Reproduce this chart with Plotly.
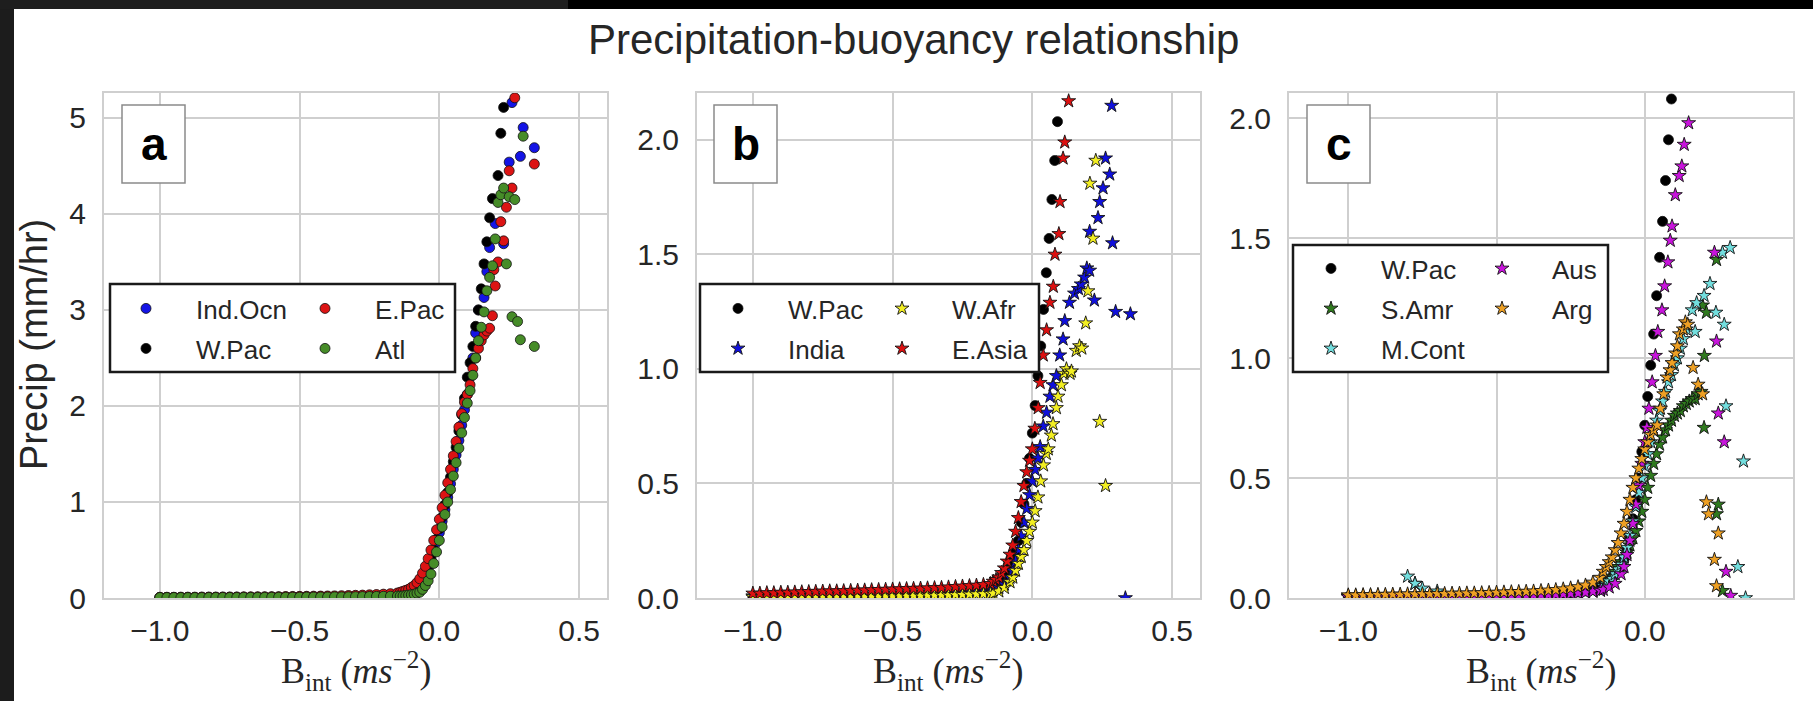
import plotly.graph_objects as go

W, H = 1813, 701

# ---------------- data ----------------
# shared bin centres of the flat left tail (B_int, m s^-2)
TAIL_B = [-1.000, -0.975, -0.950, -0.925, -0.900, -0.875, -0.850, -0.825, -0.800, -0.775,
          -0.750, -0.725, -0.700, -0.675, -0.650, -0.625, -0.600, -0.575, -0.550, -0.525,
          -0.500, -0.475, -0.450, -0.425, -0.400, -0.375, -0.350, -0.325, -0.300, -0.275,
          -0.250, -0.225, -0.200, -0.175, -0.150]

# W.Pac (same series in all three panels)
WPAC_TAIL = [0.004, 0.004, 0.004, 0.004, 0.004, 0.004, 0.004, 0.004, 0.004, 0.004, 0.005, 0.005,
             0.005, 0.005, 0.005, 0.005, 0.006, 0.006, 0.006, 0.007, 0.007, 0.008, 0.008, 0.009,
             0.010, 0.011, 0.012, 0.014, 0.016, 0.018, 0.021, 0.025, 0.030, 0.036, 0.044]
WPAC_X = [-0.14, -0.13, -0.12, -0.11, -0.10, -0.09, -0.08, -0.07, -0.06, -0.05, -0.04, -0.03, -0.02,
          -0.01, 0.00, 0.01, 0.02, 0.03, 0.04, 0.05, 0.06, 0.07, 0.08, 0.09, 0.10, 0.11, 0.12, 0.13,
          0.14, 0.15, 0.16, 0.17, 0.18, 0.19, 0.21, 0.22, 0.23]
WPAC_Y = [0.054, 0.06, 0.07, 0.085, 0.10, 0.115, 0.13, 0.16, 0.20, 0.25, 0.33, 0.41, 0.50, 0.61,
          0.72, 0.84, 0.97, 1.10, 1.26, 1.42, 1.57, 1.74, 1.91, 2.08, 2.30, 2.45, 2.62, 2.83, 3.00,
          3.22, 3.48, 3.71, 3.96, 4.16, 4.40, 4.84, 5.11]

# panel a (ocean regions)
IND_TAIL = [0.006, 0.006, 0.006, 0.006, 0.006, 0.006, 0.007, 0.007, 0.007, 0.007, 0.007, 0.008,
            0.008, 0.008, 0.008, 0.009, 0.009, 0.009, 0.010, 0.010, 0.011, 0.011, 0.012, 0.013,
            0.014, 0.015, 0.016, 0.018, 0.020, 0.022, 0.025, 0.028, 0.032, 0.037, 0.043]
IND_X = [-0.14, -0.13, -0.12, -0.11, -0.10, -0.09, -0.08, -0.07, -0.06, -0.05, -0.04, -0.03, -0.02,
         -0.01, 0.00, 0.01, 0.02, 0.03, 0.04, 0.05, 0.06, 0.07, 0.08, 0.09, 0.10, 0.11, 0.12, 0.13,
         0.14, 0.16, 0.17, 0.18, 0.20, 0.23, 0.25, 0.26, 0.29, 0.30, 0.34]
IND_Y = [0.05, 0.055, 0.065, 0.075, 0.09, 0.10, 0.12, 0.15, 0.19, 0.24, 0.31, 0.39, 0.48, 0.58,
         0.68, 0.80, 0.92, 1.05, 1.19, 1.34, 1.49, 1.64, 1.80, 1.96, 2.12, 2.30, 2.50, 2.76, 3.00,
         3.13, 3.40, 3.65, 3.90, 3.69, 4.54, 5.16, 4.60, 4.90, 4.69]

EPAC_TAIL = [0.008, 0.008, 0.008, 0.009, 0.009, 0.009, 0.010, 0.010, 0.010, 0.011, 0.011, 0.011,
             0.012, 0.012, 0.013, 0.013, 0.014, 0.014, 0.015, 0.016, 0.017, 0.018, 0.019, 0.020,
             0.021, 0.022, 0.024, 0.026, 0.028, 0.030, 0.033, 0.036, 0.040, 0.045, 0.052]
EPAC_X = [-0.14, -0.13, -0.12, -0.11, -0.10, -0.09, -0.08, -0.07, -0.06, -0.05, -0.04, -0.03, -0.02,
          -0.01, 0.00, 0.01, 0.02, 0.03, 0.04, 0.05, 0.06, 0.07, 0.08, 0.09, 0.10, 0.11, 0.12, 0.13,
          0.14, 0.15, 0.16, 0.17, 0.18, 0.19, 0.195, 0.20, 0.21, 0.22, 0.23, 0.24, 0.25, 0.26, 0.27,
          0.34]
EPAC_Y = [0.06, 0.07, 0.08, 0.09, 0.11, 0.13, 0.16, 0.20, 0.26, 0.33, 0.41, 0.50, 0.60, 0.71,
          0.82, 0.94, 1.07, 1.20, 1.34, 1.48, 1.63, 1.78, 1.92, 2.04, 2.12, 2.22, 2.39, 2.50, 2.60,
          2.68, 2.74, 2.78, 2.81, 2.94, 3.42, 3.25, 3.50, 3.92, 3.72, 4.07, 4.45, 4.27, 5.21, 4.52]

ATL_TAIL = [0.005, 0.005, 0.005, 0.005, 0.005, 0.005, 0.005, 0.006, 0.006, 0.006, 0.006, 0.006,
            0.007, 0.007, 0.007, 0.007, 0.008, 0.008, 0.008, 0.009, 0.009, 0.010, 0.010, 0.011,
            0.011, 0.012, 0.012, 0.013, 0.014, 0.015, 0.016, 0.017, 0.018, 0.019, 0.020]
ATL_X = [-0.14, -0.13, -0.12, -0.11, -0.10, -0.09, -0.08, -0.07, -0.06, -0.05, -0.04, -0.03, -0.02,
         -0.01, 0.00, 0.01, 0.02, 0.03, 0.04, 0.05, 0.06, 0.07, 0.08, 0.09, 0.10, 0.11, 0.12, 0.13,
         0.14, 0.15, 0.16, 0.17, 0.18, 0.19, 0.20, 0.21, 0.22, 0.23, 0.24, 0.25, 0.26, 0.27, 0.28,
         0.29, 0.30, 0.34]
ATL_Y = [0.02, 0.022, 0.025, 0.03, 0.034, 0.04, 0.05, 0.06, 0.09, 0.13, 0.18, 0.25, 0.36, 0.48,
         0.60, 0.74, 0.87, 1.00, 1.13, 1.27, 1.41, 1.56, 1.72, 1.88, 2.03, 2.16, 2.32, 2.50, 2.68,
         2.82, 2.98, 3.20, 3.34, 3.46, 3.74, 4.12, 4.20, 4.27, 3.48, 4.18, 2.93, 4.15, 2.88, 2.69,
         4.81, 2.62]

# panel b (monsoon land regions)
INDIA_TAIL = [0.008, 0.008, 0.008, 0.008, 0.009, 0.009, 0.009, 0.010, 0.010, 0.010, 0.010, 0.011,
              0.011, 0.012, 0.012, 0.013, 0.013, 0.014, 0.015, 0.015, 0.016, 0.017, 0.018, 0.019,
              0.020, 0.021, 0.022, 0.023, 0.024, 0.025, 0.026, 0.027, 0.028, 0.030, 0.032]
INDIA_X = [-0.14, -0.12, -0.10, -0.08, -0.07, -0.06, -0.05, -0.04, -0.03, -0.02, -0.01, 0.00, 0.01,
           0.02, 0.028, 0.039, 0.051, 0.063, 0.074, 0.086, 0.098, 0.110, 0.116, 0.133, 0.151, 0.165,
           0.175, 0.187, 0.195, 0.205, 0.205, 0.222, 0.235, 0.241, 0.253, 0.262, 0.277, 0.284, 0.287,
           0.298, 0.333, 0.351]
INDIA_Y = [0.035, 0.045, 0.06, 0.09, 0.12, 0.16, 0.21, 0.27, 0.33, 0.39, 0.45, 0.51, 0.56, 0.61,
           0.66, 0.75, 0.81, 0.88, 0.93, 0.97, 1.06, 1.13, 1.21, 1.29, 1.33, 1.35, 1.37, 1.40, 1.44,
           1.43, 1.60, 1.30, 1.66, 1.73, 1.79, 1.92, 1.85, 2.15, 1.55, 1.25, 0.00, 1.24]

WAFR_TAIL = [0.004, 0.004, 0.004, 0.004, 0.005, 0.005, 0.005, 0.005, 0.005, 0.006, 0.006, 0.006,
             0.006, 0.007, 0.007, 0.007, 0.008, 0.008, 0.008, 0.009, 0.009, 0.010, 0.010, 0.011,
             0.011, 0.012, 0.012, 0.013, 0.013, 0.014, 0.015, 0.016, 0.017, 0.018, 0.019]
WAFR_X = [-0.14, -0.12, -0.10, -0.08, -0.07, -0.06, -0.05, -0.04, -0.03, -0.02, -0.01, 0.00, 0.01,
          0.02, 0.03, 0.04, 0.05, 0.057, 0.068, 0.074, 0.086, 0.092, 0.104, 0.113, 0.122, 0.135,
          0.140, 0.157, 0.169, 0.177, 0.191, 0.199, 0.206, 0.217, 0.227, 0.241, 0.262]
WAFR_Y = [0.02, 0.03, 0.045, 0.07, 0.09, 0.12, 0.15, 0.18, 0.21, 0.25, 0.29, 0.33, 0.38, 0.44,
          0.51, 0.58, 0.63, 0.65, 0.71, 0.76, 0.83, 0.88, 0.93, 0.98, 1.00, 0.98, 0.99, 1.08, 1.10,
          1.09, 1.20, 1.34, 1.81, 1.57, 1.91, 0.77, 0.49]

EASIA_TAIL = [0.020, 0.020, 0.022, 0.022, 0.024, 0.024, 0.025, 0.026, 0.027, 0.028, 0.029, 0.030,
              0.030, 0.031, 0.032, 0.033, 0.034, 0.035, 0.036, 0.037, 0.038, 0.039, 0.040, 0.041,
              0.042, 0.043, 0.044, 0.045, 0.047, 0.049, 0.051, 0.053, 0.055, 0.058, 0.062]
EASIA_X = [-0.14, -0.13, -0.12, -0.11, -0.10, -0.09, -0.08, -0.07, -0.06, -0.05, -0.04, -0.03, -0.02,
           -0.01, 0.00, 0.009, 0.021, 0.028, 0.039, 0.051, 0.063, 0.075, 0.081, 0.095, 0.099, 0.110,
           0.116, 0.130]
EASIA_Y = [0.072, 0.08, 0.09, 0.11, 0.13, 0.16, 0.19, 0.23, 0.29, 0.35, 0.42, 0.49, 0.55, 0.60,
           0.65, 0.74, 0.83, 0.94, 1.06, 1.17, 1.29, 1.36, 1.50, 1.59, 1.73, 1.92, 1.99, 2.17]

# panel c (other land regions)
SAMR_TAIL = [0.008, 0.008, 0.008, 0.008, 0.008, 0.008, 0.008, 0.008, 0.009, 0.060, 0.009, 0.009,
             0.010, 0.010, 0.010, 0.011, 0.011, 0.011, 0.012, 0.012, 0.013, 0.013, 0.014, 0.014,
             0.015, 0.016, 0.017, 0.018, 0.019, 0.020, 0.022, 0.024, 0.027, 0.030, 0.034]
SAMR_X = [-0.14, -0.13, -0.12, -0.11, -0.10, -0.09, -0.08, -0.07, -0.06, -0.05, -0.04, -0.03, -0.02,
          -0.01, 0.00, 0.01, 0.02, 0.03, 0.04, 0.05, 0.06, 0.07, 0.08, 0.09, 0.10, 0.11, 0.12, 0.13,
          0.14, 0.15, 0.16, 0.17, 0.18, 0.19, 0.195, 0.200, 0.201, 0.208, 0.242, 0.242, 0.248, 0.262]
SAMR_Y = [0.05, 0.06, 0.075, 0.09, 0.11, 0.13, 0.15, 0.17, 0.19, 0.22, 0.25, 0.28, 0.32, 0.36,
          0.41, 0.46, 0.51, 0.56, 0.60, 0.64, 0.67, 0.70, 0.72, 0.74, 0.76, 0.77, 0.78, 0.80, 0.81,
          0.82, 0.83, 0.83, 0.85, 0.86, 1.22, 0.71, 1.01, 1.19, 1.41, 0.35, 0.39, 0.03]

MCONT_TAIL = [0.006, 0.006, 0.006, 0.006, 0.006, 0.006, 0.006, 0.007, 0.090, 0.060, 0.040, 0.010,
              0.028, 0.008, 0.008, 0.008, 0.009, 0.009, 0.009, 0.010, 0.010, 0.011, 0.011, 0.012,
              0.012, 0.013, 0.014, 0.015, 0.016, 0.017, 0.019, 0.021, 0.024, 0.028, 0.033]
MCONT_X = [-0.14, -0.13, -0.12, -0.11, -0.10, -0.09, -0.08, -0.07, -0.06, -0.05, -0.04, -0.03, -0.02,
           -0.01, 0.00, 0.01, 0.02, 0.03, 0.04, 0.05, 0.06, 0.07, 0.08, 0.09, 0.10, 0.11, 0.12, 0.13,
           0.14, 0.16, 0.17, 0.175, 0.20, 0.22, 0.24, 0.262, 0.268, 0.274, 0.288, 0.314, 0.333, 0.340]
MCONT_Y = [0.05, 0.06, 0.07, 0.08, 0.10, 0.12, 0.14, 0.17, 0.21, 0.26, 0.32, 0.38, 0.44, 0.50,
           0.55, 0.60, 0.65, 0.70, 0.74, 0.78, 0.82, 0.86, 0.90, 0.93, 0.97, 1.00, 1.04, 1.08, 1.12,
           1.20, 1.11, 1.23, 1.26, 1.31, 1.19, 1.44, 1.14, 0.80, 1.46, 0.13, 0.57, 0.00]

AUS_TAIL = [0.004, 0.004, 0.004, 0.004, 0.004, 0.004, 0.005, 0.005, 0.005, 0.005, 0.005, 0.005,
            0.006, 0.006, 0.006, 0.006, 0.007, 0.007, 0.007, 0.008, 0.008, 0.009, 0.009, 0.010,
            0.010, 0.011, 0.012, 0.013, 0.014, 0.016, 0.018, 0.020, 0.023, 0.027, 0.031]
AUS_X = [-0.14, -0.12, -0.10, -0.08, -0.07, -0.06, -0.05, -0.04, -0.03, -0.02, -0.01, 0.00, 0.007,
         0.014, 0.025, 0.036, 0.044, 0.058, 0.067, 0.078, 0.086, 0.092, 0.103, 0.116, 0.125, 0.133,
         0.148, 0.235, 0.242, 0.248, 0.268, 0.274, 0.290]
AUS_Y = [0.035, 0.045, 0.06, 0.10, 0.13, 0.18, 0.24, 0.31, 0.39, 0.47, 0.56, 0.65, 0.71, 0.79,
         0.90, 1.01, 1.11, 1.20, 1.30, 1.40, 1.49, 1.55, 1.68, 1.76, 1.80, 1.89, 1.98, 1.44, 1.07,
         0.77, 0.65, 0.11, 0.01]

ARG_TAIL = [0.012, 0.012, 0.013, 0.013, 0.014, 0.014, 0.015, 0.015, 0.016, 0.016, 0.017, 0.017,
            0.018, 0.018, 0.019, 0.019, 0.020, 0.020, 0.021, 0.022, 0.023, 0.024, 0.025, 0.026,
            0.027, 0.028, 0.030, 0.032, 0.034, 0.037, 0.041, 0.046, 0.053, 0.065, 0.085]
ARG_X = [-0.14, -0.13, -0.12, -0.11, -0.10, -0.09, -0.08, -0.07, -0.06, -0.05, -0.04, -0.03, -0.02,
         -0.01, 0.00, 0.01, 0.02, 0.03, 0.042, 0.053, 0.064, 0.075, 0.085, 0.092, 0.104, 0.110,
         0.117, 0.130, 0.137, 0.145, 0.163, 0.180, 0.195, 0.208, 0.215, 0.235, 0.242, 0.248]
ARG_Y = [0.11, 0.13, 0.15, 0.17, 0.20, 0.23, 0.27, 0.31, 0.36, 0.41, 0.46, 0.50, 0.54, 0.58,
         0.62, 0.65, 0.68, 0.70, 0.72, 0.79, 0.85, 0.92, 0.95, 0.98, 1.02, 1.05, 1.10, 1.12, 1.15,
         1.14, 0.96, 0.89, 0.85, 0.40, 0.35, 0.16, 0.05, 0.27]

PANEL_LETTERS = ["a", "b", "c"]
X_TICKS = [-1.0, -0.5, 0.0, 0.5]
TITLE = "Precipitation-buoyancy relationship"
Y_TITLE = "Precip (mm/hr)"
X_TITLE = "B<sub>int</sub> (<i>ms</i><sup>−2</sup>)"

# ---------------- layout helpers (pixels -> paper fractions) ----------------
def fx(px):
    return px / W

def fy(py):
    return 1 - py / H

PLOT_TOP, PLOT_BOTTOM = 93, 598
PANEL_PX = [(104, 607), (697, 1200), (1289, 1793)]
X_RANGES = [[-1.2, 0.6], [-1.2, 0.6], [-1.2, 0.5]]
Y_RANGES = [[0, 5.26], [0, 2.205], [0, 2.105]]
Y_DTICK = [1, 0.5, 0.5]
Y_FMT = ["d", ".1f", ".1f"]

COL = {
    "ind": "#1414e6", "wpac": "#000000", "epac": "#dc1414", "atl": "#468c28",
    "india": "#1010dc", "wafr": "#f2ee22", "easia": "#dc1010",
    "samr": "#2f7a1e", "mcont": "#72dede", "aus": "#c814dc", "arg": "#eea024",
}

fig = go.Figure()

def add(name, tail, cx, cy, color, symbol, panel, legend):
    axis = "" if panel == 0 else str(panel + 1)
    is_star = symbol == "star"
    fig.add_trace(go.Scatter(
        x=TAIL_B + cx, y=tail + cy, mode="markers", name=name,
        xaxis="x" + axis, yaxis="y" + axis, legend=legend,
        legendgroup=f"{legend}-{name}",
        marker=dict(symbol=symbol, size=10.5 if is_star else 10, color=color,
                    line=dict(color="#111111", width=0.9 if is_star else 0.8)),
        hoverinfo="skip",
    ))

# panel a
add("Ind.Ocn", IND_TAIL, IND_X, IND_Y, COL["ind"], "circle", 0, "legend")
add("W.Pac", WPAC_TAIL, WPAC_X, WPAC_Y, COL["wpac"], "circle", 0, "legend")
add("E.Pac", EPAC_TAIL, EPAC_X, EPAC_Y, COL["epac"], "circle", 0, "legend2")
add("Atl", ATL_TAIL, ATL_X, ATL_Y, COL["atl"], "circle", 0, "legend2")
# panel b
add("W.Pac", WPAC_TAIL, WPAC_X, WPAC_Y, COL["wpac"], "circle", 1, "legend3")
add("India", INDIA_TAIL, INDIA_X, INDIA_Y, COL["india"], "star", 1, "legend3")
add("W.Afr", WAFR_TAIL, WAFR_X, WAFR_Y, COL["wafr"], "star", 1, "legend4")
add("E.Asia", EASIA_TAIL, EASIA_X, EASIA_Y, COL["easia"], "star", 1, "legend4")
# panel c
add("W.Pac", WPAC_TAIL, WPAC_X, WPAC_Y, COL["wpac"], "circle", 2, "legend5")
add("S.Amr", SAMR_TAIL, SAMR_X, SAMR_Y, COL["samr"], "star", 2, "legend5")
add("M.Cont", MCONT_TAIL, MCONT_X, MCONT_Y, COL["mcont"], "star", 2, "legend5")
add("Aus", AUS_TAIL, AUS_X, AUS_Y, COL["aus"], "star", 2, "legend6")
add("Arg", ARG_TAIL, ARG_X, ARG_Y, COL["arg"], "star", 2, "legend6")

SANS = "Liberation Sans, Arial, sans-serif"
TICK_FONT = dict(family=SANS, size=30, color="#262626")
GRID = "#cfcfcf"

layout = dict(
    width=W, height=H,
    margin=dict(l=0, r=0, t=0, b=0),
    paper_bgcolor="white", plot_bgcolor="white",
    showlegend=True,
)

for i in range(3):
    sfx = "" if i == 0 else str(i + 1)
    x0, x1 = PANEL_PX[i]
    layout["xaxis" + sfx] = dict(
        domain=[fx(x0), fx(x1)], range=X_RANGES[i], tickvals=X_TICKS, tickformat=".1f",
        showgrid=True, gridcolor=GRID, gridwidth=2, zeroline=False,
        showline=True, linecolor=GRID, linewidth=2, mirror=True,
        ticks="outside", ticklen=5, tickcolor="rgba(0,0,0,0)",
        tickfont=TICK_FONT, anchor="y" + sfx, automargin=False, fixedrange=True,
    )
    layout["yaxis" + sfx] = dict(
        domain=[fy(PLOT_BOTTOM), fy(PLOT_TOP)], range=Y_RANGES[i], dtick=Y_DTICK[i], tick0=0,
        tickformat=Y_FMT[i],
        showgrid=True, gridcolor=GRID, gridwidth=2, zeroline=False,
        showline=True, linecolor=GRID, linewidth=2, mirror=True,
        ticks="outside", ticklen=10, tickcolor="rgba(0,0,0,0)",
        tickfont=TICK_FONT, anchor="x" + sfx, automargin=False, fixedrange=True,
    )

# legends: two columns per panel, each a separate plotly legend
LEG_FONT = dict(family=SANS, size=26, color="#262626")
leg_pos = {
    "legend": (96, 285), "legend2": (275, 285),
    "legend3": (688, 285), "legend4": (852, 285),
    "legend5": (1281, 245), "legend6": (1452, 245),
}
for key, (lx, ly) in leg_pos.items():
    layout[key] = dict(
        x=fx(lx), y=fy(ly), xanchor="left", yanchor="top", xref="paper", yref="paper",
        bgcolor="rgba(0,0,0,0)", borderwidth=0, font=LEG_FONT,
        itemwidth=90, tracegroupgap=3.2, itemclick=False, itemdoubleclick=False,
    )

shapes = []
# legend frames
for (bx0, by0, bx1, by1) in [(110, 284, 455, 372), (700, 284, 1039, 372), (1293, 245, 1608, 372)]:
    shapes.append(dict(type="rect", xref="paper", yref="paper",
                       x0=fx(bx0), x1=fx(bx1), y0=fy(by1), y1=fy(by0),
                       fillcolor="white", line=dict(color="#1a1a1a", width=2.5), layer="above"))
# panel letter boxes
LETTER_BOX = [(122, 185), (714, 777), (1307, 1370)]
for (bx0, bx1) in LETTER_BOX:
    shapes.append(dict(type="rect", xref="paper", yref="paper",
                       x0=fx(bx0), x1=fx(bx1), y0=fy(183), y1=fy(105),
                       fillcolor="white", line=dict(color="#8a8a8a", width=1.5), layer="above"))
# dark screenshot border (left and top)
shapes.append(dict(type="rect", xref="paper", yref="paper", x0=0, x1=fx(14), y0=0, y1=1,
                   fillcolor="#1c1c1c", line=dict(width=0), layer="above"))
shapes.append(dict(type="rect", xref="paper", yref="paper", x0=0, x1=fx(568), y0=fy(9), y1=1,
                   fillcolor="#1e1e1e", line=dict(width=0), layer="above"))
shapes.append(dict(type="rect", xref="paper", yref="paper", x0=fx(568), x1=1, y0=fy(9), y1=1,
                   fillcolor="#000000", line=dict(width=0), layer="above"))
layout["shapes"] = shapes

ann = []
ann.append(dict(text=TITLE, x=fx(913), y=fy(39), xref="paper", yref="paper",
                xanchor="center", yanchor="middle", showarrow=False,
                font=dict(family=SANS, size=42, color="#262626")))
ann.append(dict(text=Y_TITLE, x=fx(34), y=fy(345), xref="paper", yref="paper", textangle=-90,
                xanchor="center", yanchor="middle", showarrow=False,
                font=dict(family=SANS, size=38, color="#262626")))
for i in range(3):
    x0, x1 = PANEL_PX[i]
    ann.append(dict(text=X_TITLE, x=fx((x0 + x1) / 2), y=fy(671), xref="paper", yref="paper",
                    xanchor="center", yanchor="middle", showarrow=False,
                    font=dict(family="Liberation Serif, DejaVu Serif, serif", size=36, color="#262626")))
    bx0, bx1 = LETTER_BOX[i]
    ann.append(dict(text="<b>" + PANEL_LETTERS[i] + "</b>", x=fx((bx0 + bx1) / 2), y=fy(144),
                    xref="paper", yref="paper", xanchor="center", yanchor="middle", showarrow=False,
                    font=dict(family=SANS, size=46, color="#000000")))
layout["annotations"] = ann

fig.update_layout(**layout)
fig.write_html("out.html")
